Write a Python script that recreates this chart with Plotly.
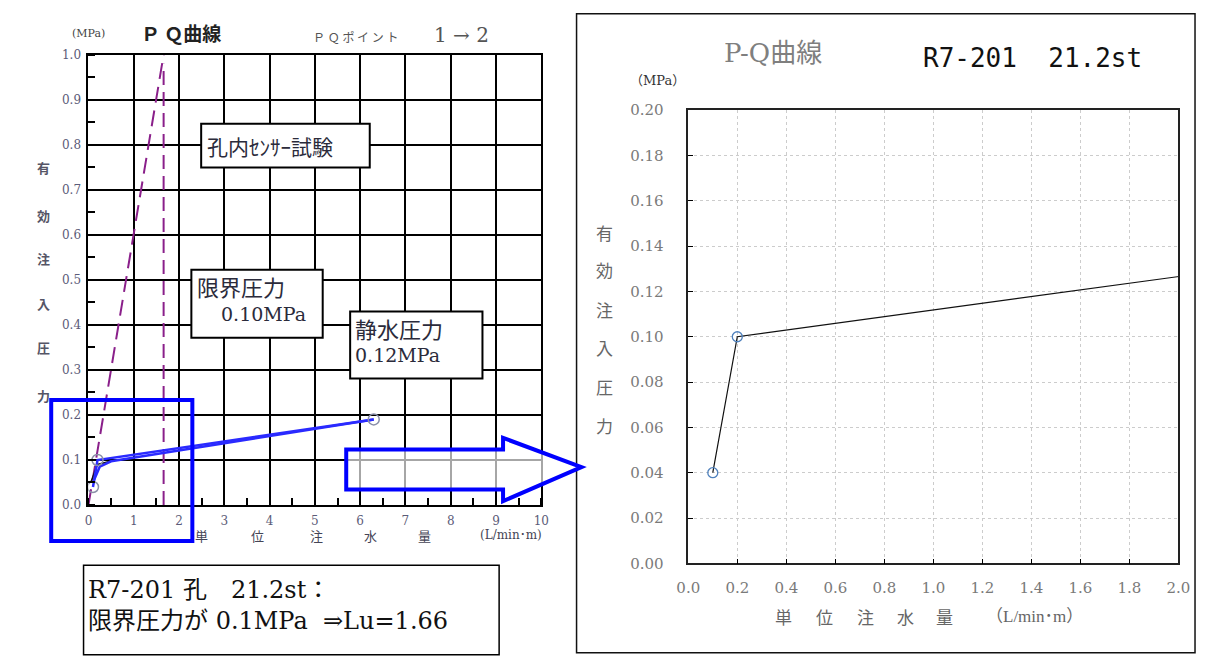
import plotly.graph_objects as go

W, H = 1208, 656


def fx(p):
    return p / W


def fy(p):
    return 1 - p / H


# ---------------- data ----------------
q_load = [0.1, 0.2, 6.3]            # L/min·m
p_load = [0.04, 0.10, 0.19]         # MPa
q_unload = [6.3, 0.5, 0.25, 0.1]
p_unload = [0.19, 0.097, 0.085, 0.05]
q_init = [0.05, 0.2, 0.6]
p_init = [0.05, 0.09, 0.10]
q_limit_slope = [0.0, 1.66]
p_limit_slope = [0.0, 1.0]
q_lu = [1.66, 1.66]
p_lu = [0.0, 0.98]

left_x_ticks = list(range(0, 11))
left_x_labels = [str(v) for v in left_x_ticks]
left_y_ticks = [0.0, 0.1, 0.2, 0.3, 0.4, 0.5, 0.6, 0.7, 0.8, 0.9, 1.0]
left_y_labels = ["0.0", "0.1", "0.2", "0.3", "0.4", "0.5", "0.6", "0.7", "0.8", "0.9", "1.0"]
right_x_ticks = [0.0, 0.2, 0.4, 0.6, 0.8, 1.0, 1.2, 1.4, 1.6, 1.8, 2.0]
right_x_labels = ["0.0", "0.2", "0.4", "0.6", "0.8", "1.0", "1.2", "1.4", "1.6", "1.8", "2.0"]
right_y_ticks = [0.0, 0.02, 0.04, 0.06, 0.08, 0.10, 0.12, 0.14, 0.16, 0.18, 0.20]
right_y_labels = ["0.00", "0.02", "0.04", "0.06", "0.08", "0.10", "0.12", "0.14", "0.16", "0.18", "0.20"]

SERIF = "DejaVu Serif, Noto Sans CJK JP"
JP = "Noto Sans CJK JP"
PURPLE = "#8a1f8a"

fig = go.Figure()

# ---- left chart traces ----
fig.add_trace(go.Scatter(x=q_limit_slope, y=p_limit_slope, mode="lines",
                         line=dict(color=PURPLE, width=2, dash="16px,8px"),
                         xaxis="x", yaxis="y", showlegend=False))
fig.add_trace(go.Scatter(x=q_lu, y=p_lu, mode="lines",
                         line=dict(color=PURPLE, width=2, dash="14px,7px"),
                         xaxis="x", yaxis="y", showlegend=False))
fig.add_trace(go.Scatter(x=q_init, y=p_init, mode="lines",
                         line=dict(color="#111111", width=1.5),
                         xaxis="x", yaxis="y", showlegend=False))
fig.add_trace(go.Scatter(x=q_unload, y=p_unload, mode="lines",
                         line=dict(color="#2a2aff", width=2.5),
                         xaxis="x", yaxis="y", showlegend=False))
fig.add_trace(go.Scatter(x=q_load, y=p_load, mode="lines+markers",
                         line=dict(color="#2a2aff", width=2.5),
                         marker=dict(symbol="circle-open", size=11,
                                     color="#8a8fa8", line=dict(width=1.5)),
                         xaxis="x", yaxis="y", showlegend=False))

# ---- right chart trace ----
fig.add_trace(go.Scatter(x=q_load, y=p_load, mode="lines+markers",
                         line=dict(color="#111111", width=1.2),
                         marker=dict(symbol="circle-open", size=10,
                                     color="#4f81bd", line=dict(width=1.3)),
                         xaxis="x2", yaxis="y2", showlegend=False))

# ---------------- shapes ----------------
shapes = []


def rect(x0, y0, x1, y1, line_color="black", width=2, fill="white", layer="above"):
    shapes.append(dict(type="rect", xref="paper", yref="paper",
                       x0=fx(x0), x1=fx(x1), y0=fy(y1), y1=fy(y0),
                       line=dict(color=line_color, width=width),
                       fillcolor=fill, layer=layer))


# right container frame
rect(576, 5, 1207, 662, line_color="#111111", width=1.5, fill="rgba(0,0,0,0)", layer="below")
# text boxes in left chart
rect(193, 118, 365, 163)
rect(183, 268, 317, 338)
rect(345, 311, 480, 380)
# bottom-left note box
rect(73, 572, 497, 664, width=1.5)
# blue highlight rectangle
rect(40, 402, 184, 547, line_color="#0000ff", width=4, fill="rgba(0,0,0,0)")
# blue arrow
arrow_pts = [(341, 453), (501, 453), (501, 441), (581, 471), (501, 506), (501, 494), (341, 494)]
path = "M " + " L ".join(f"{fx(x):.5f},{fy(y):.5f}" for x, y in arrow_pts) + " Z"
shapes.append(dict(type="path", xref="paper", yref="paper", path=path,
                   line=dict(color="#0000ff", width=4),
                   fillcolor="rgba(255,255,255,0.65)", layer="above"))

# ---------------- annotations ----------------
ann = []


def txt(x, y, text, size, color="#222222", family=JP, xanchor="center"):
    ann.append(dict(x=fx(x), y=fy(y), xref="paper", yref="paper", text=text,
                    showarrow=False, xanchor=xanchor, yanchor="middle",
                    font=dict(size=size, color=color, family=family)))


# left chart header
txt(78, 25, "(MPa)", 11, "#444444", SERIF)
txt(172, 24, "<b>Ｐ Ｑ曲線</b>", 19, "#222222", JP)
txt(350, 28, "Ｐ Ｑ ポ イ ン ト", 12, "#555555", JP)
txt(459, 27, "1 → 2", 20, "#555555", SERIF)

# left y title (vertical characters)
for ch, yy in zip("有効注入圧力", [163, 212, 257, 303, 348, 397]):
    txt(32, yy, "<b>" + ch + "</b>", 13, "#555566", JP)

# left x title
for ch, xx in zip("単位注水量", [193, 250, 311, 366, 421]):
    txt(xx, 541, ch, 13, "#444455", JP)
txt(509, 541, "(L/min･m)", 12, "#444455", SERIF)

# text boxes
txt(197, 141, "孔内ｾﾝｻｰ試験", 21, "#2b2b3b", JP, "left")
txt(187, 285, "限界圧力", 22, "#2b2b3b", JP, "left")
txt(211, 314, "0.10MPa", 19, "#2b2b3b", SERIF, "left")
txt(348, 328, "静水圧力", 22, "#2b2b3b", JP, "left")
txt(348, 356, "0.12MPa", 19, "#2b2b3b", SERIF, "left")

# bottom-left note
txt(75, 597, "R7-201 孔　21.2st：", 24, "#111111", SERIF, "left")
txt(75, 629, "限界圧力が 0.1MPa  ⇒Lu=1.66", 24, "#111111", SERIF, "left")

# right chart header
txt(776, 45, "P-Q曲線", 26, "#7f7f7f", SERIF)
txt(1041, 50, "R7-201  21.2st", 26, "#111111", "DejaVu Sans Mono")
txt(659, 74, "（MPa）", 13, "#333333", SERIF)

# right y title
for ch, yy in zip("有効注入圧力", [230, 268, 309, 348, 388, 428]):
    txt(605, yy, ch, 17, "#666666", JP)

# right x title
for ch, xx in zip("単位注水量", [787, 829, 871, 912, 951]):
    txt(xx, 625, ch, 17, "#666666", JP)
txt(1043, 625, "（L/min･m）", 17, "#666666", "Liberation Serif, Noto Sans CJK JP")

# ---------------- layout ----------------
fig.update_layout(
    width=W, height=H,
    margin=dict(l=0, r=0, t=0, b=0),
    paper_bgcolor="white", plot_bgcolor="white",
    shapes=shapes, annotations=ann,
    xaxis=dict(domain=[fx(78), fx(540)], range=[0, 10], anchor="y",
               tickvals=left_x_ticks, ticktext=left_x_labels,
               showgrid=True, gridcolor="black", gridwidth=2,
               showline=True, linecolor="black", linewidth=2, mirror=True,
               zeroline=False, ticks="",
               minor=dict(dtick=0.5, tick0=0, ticks="inside", ticklen=7,
                          tickwidth=2, tickcolor="black", showgrid=False),
               tickfont=dict(family=SERIF, size=12, color="#5b5b78"),
               ticklabelstandoff=4),
    yaxis=dict(domain=[fy(510), fy(47)], range=[0, 1.0], anchor="x",
               tickvals=left_y_ticks, ticktext=left_y_labels,
               showgrid=True, gridcolor="black", gridwidth=2,
               showline=True, linecolor="black", linewidth=2, mirror=True,
               zeroline=False, ticks="",
               minor=dict(dtick=0.05, tick0=0, ticks="inside", ticklen=7,
                          tickwidth=2, tickcolor="black", showgrid=False),
               tickfont=dict(family=SERIF, size=12, color="#5b5b78"),
               ticklabelstandoff=3),
    xaxis2=dict(domain=[fx(690), fx(1190)], range=[0, 2.0], anchor="y2",
                tickvals=right_x_ticks, ticktext=right_x_labels,
                showgrid=True, gridcolor="#cccccc", gridwidth=1, griddash="dot",
                showline=True, linecolor="#222222", linewidth=1.5, mirror=True,
                zeroline=False, ticks="inside", ticklen=5, tickcolor="black",
                tickfont=dict(family=SERIF, size=15, color="#7a7a7a"),
                ticklabelstandoff=10),
    yaxis2=dict(domain=[fy(570), fy(104)], range=[0, 0.2], anchor="x2",
                tickvals=right_y_ticks, ticktext=right_y_labels,
                showgrid=True, gridcolor="#cccccc", gridwidth=1, griddash="dot",
                showline=True, linecolor="#222222", linewidth=1.5, mirror=True,
                zeroline=False, ticks="inside", ticklen=5, tickcolor="black",
                tickfont=dict(family=SERIF, size=15, color="#7a7a7a"),
                ticklabelstandoff=20),
)

fig.write_html("out.html")
